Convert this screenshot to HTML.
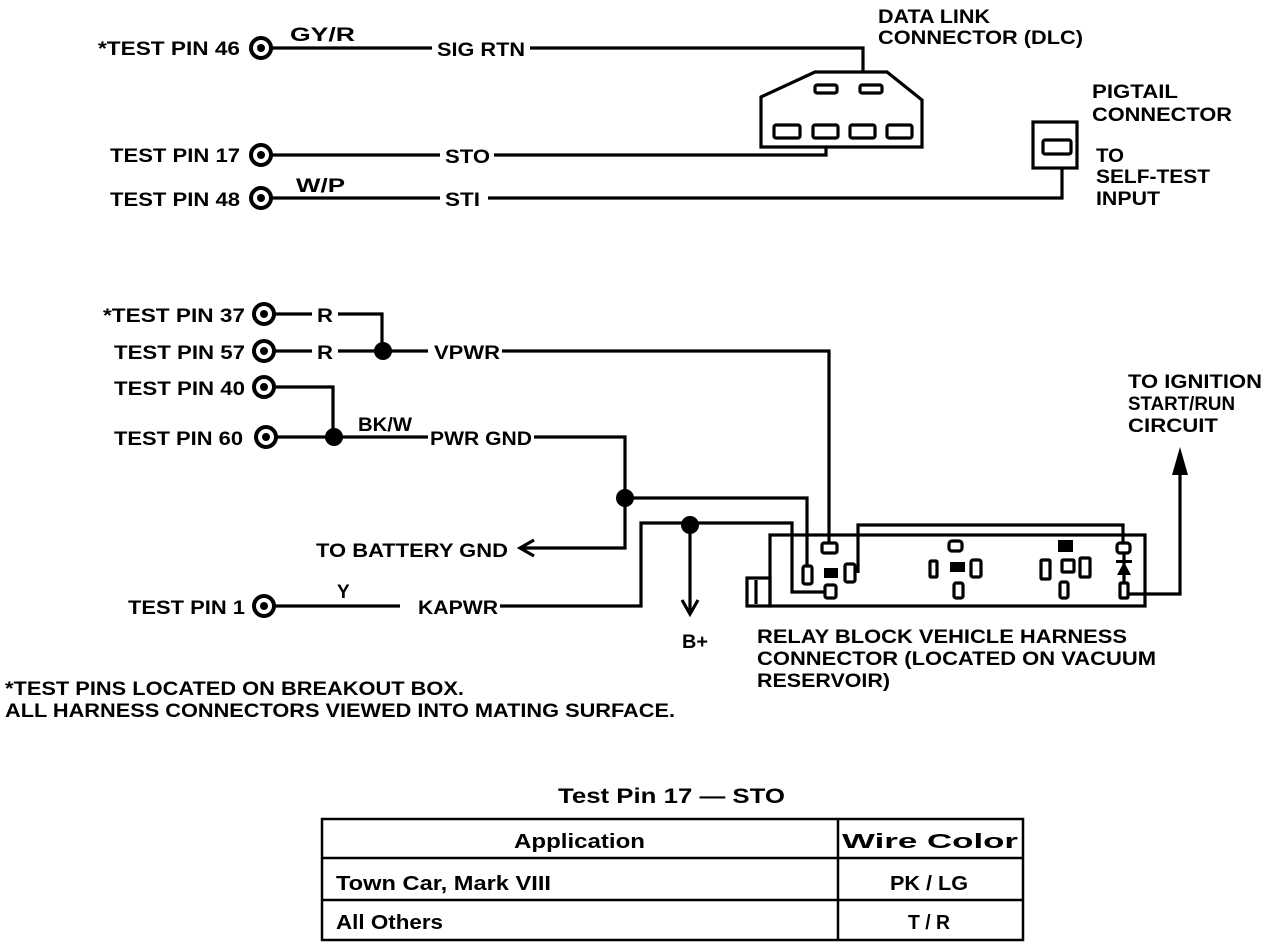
<!DOCTYPE html>
<html><head><meta charset="utf-8"><style>
html,body{margin:0;padding:0;background:#fff;}
svg{display:block}
text{font-family:"Liberation Sans",sans-serif;font-weight:bold;fill:#000;}
</style></head><body>
<svg width="1280" height="948" viewBox="0 0 1280 948" xmlns="http://www.w3.org/2000/svg">
<g fill="none" stroke="#000" stroke-width="3.2">
<circle cx="261" cy="48" r="10" stroke-width="4"/><circle cx="261" cy="155" r="10" stroke-width="4"/><circle cx="261" cy="198" r="10" stroke-width="4"/>
<polyline points="271,48 432,48"/><polyline points="530,48 863,48 863,72"/>
<polyline points="271,155 440,155"/><polyline points="494,155 826,155 826,147"/>
<polyline points="271,198 440,198"/><polyline points="488,198 1062,198 1062,168"/>
<polygon points="761,97 815,72 887,72 922,100 922,147 761,147"/>
<rect x="815" y="85" width="22" height="8" rx="2"/><rect x="860" y="85" width="22" height="8" rx="2"/>
<rect x="774" y="125" width="26" height="13" rx="2"/><rect x="813" y="125" width="25" height="13" rx="2"/>
<rect x="850" y="125" width="25" height="13" rx="2"/><rect x="887" y="125" width="25" height="13" rx="2"/>
<rect x="1033" y="122" width="44" height="46"/><rect x="1043" y="140" width="28" height="14" rx="2"/>
<circle cx="264" cy="314" r="10" stroke-width="4"/><circle cx="264" cy="351" r="10" stroke-width="4"/><circle cx="264" cy="387" r="10" stroke-width="4"/><circle cx="266" cy="437" r="10" stroke-width="4"/>
<polyline points="274,314 312,314"/><polyline points="338,314 382,314 382,351"/>
<polyline points="274,351 312,351"/><polyline points="338,351 428,351"/>
<polyline points="502,351 829,351 829,543"/>
<polyline points="274,387 333,387 333,437"/>
<polyline points="276,437 428,437"/>
<polyline points="534,437 625,437 625,548 522,548"/>
<polyline points="534,540 520,548 534,556"/>
<polyline points="625,498 807,498 807,566"/>
<circle cx="264" cy="606" r="10" stroke-width="4"/>
<polyline points="274,606 400,606"/><polyline points="500,606 641,606 641,523 792,523 792,592 826,592"/>
<polyline points="690,525 690,612"/><polyline points="682,600 690,614 698,600"/>
<rect x="770" y="535" width="375" height="71"/>
<rect x="747" y="578" width="23" height="28"/><line x1="756" y1="580" x2="756" y2="604"/>
<polyline points="858,573 858,525 1123,525 1123,543"/>
<polyline points="1127,594 1180,594 1180,465"/>
<rect x="822" y="543" width="15" height="10" rx="2"/>
<rect x="803" y="566" width="9" height="18" rx="2"/>
<rect x="845" y="564" width="10" height="18" rx="2"/>
<rect x="825" y="585" width="11" height="13" rx="2"/>
<rect x="949" y="541" width="13" height="10" rx="3"/>
<rect x="930" y="561" width="7" height="16" rx="1"/>
<rect x="971" y="560" width="10" height="17" rx="2"/>
<rect x="954" y="583" width="9" height="15" rx="2"/>
<rect x="1041" y="560" width="9" height="19" rx="1"/>
<rect x="1062" y="560" width="12" height="12" rx="1"/>
<rect x="1080" y="558" width="10" height="19" rx="1"/>
<rect x="1060" y="582" width="8" height="16" rx="2"/>
<rect x="1117" y="543" width="13" height="10" rx="3"/>
<line x1="1124" y1="553" x2="1124" y2="583"/>
<rect x="1120" y="583" width="8" height="15" rx="1"/>
</g>
<g fill="#000">
<circle cx="383" cy="351" r="9"/><circle cx="334" cy="437" r="9"/><circle cx="625" cy="498" r="9"/><circle cx="690" cy="525" r="9"/>
<circle cx="261" cy="48" r="4"/><circle cx="261" cy="155" r="4"/><circle cx="261" cy="198" r="4"/>
<circle cx="264" cy="314" r="4"/><circle cx="264" cy="351" r="4"/><circle cx="264" cy="387" r="4"/><circle cx="266" cy="437" r="4"/><circle cx="264" cy="606" r="4"/>
<rect x="824" y="568" width="14" height="10"/>
<rect x="950" y="562" width="15" height="10"/>
<rect x="1058" y="540" width="15" height="12"/>
<polygon points="1117,575 1131,575 1124,562"/><rect x="1116" y="560" width="16" height="3"/>
<polygon points="1172,475 1188,475 1180,447"/>
</g>
<g font-size="19" lengthAdjust="spacingAndGlyphs">
<text x="98" y="55" textLength="142" lengthAdjust="spacingAndGlyphs">*TEST PIN 46</text>
<text x="290" y="41" textLength="65" lengthAdjust="spacingAndGlyphs">GY/R</text>
<text x="437" y="56" textLength="88" lengthAdjust="spacingAndGlyphs">SIG RTN</text>
<text x="110" y="162" textLength="130" lengthAdjust="spacingAndGlyphs">TEST PIN 17</text>
<text x="445" y="163" textLength="45" lengthAdjust="spacingAndGlyphs">STO</text>
<text x="110" y="206" textLength="130" lengthAdjust="spacingAndGlyphs">TEST PIN 48</text>
<text x="296" y="192" textLength="49" lengthAdjust="spacingAndGlyphs">W/P</text>
<text x="445" y="206" textLength="35" lengthAdjust="spacingAndGlyphs">STI</text>
<text x="878" y="23" textLength="112" lengthAdjust="spacingAndGlyphs">DATA LINK</text>
<text x="878" y="44" textLength="205" lengthAdjust="spacingAndGlyphs">CONNECTOR (DLC)</text>
<text x="1092" y="98" textLength="86" lengthAdjust="spacingAndGlyphs">PIGTAIL</text>
<text x="1092" y="121" textLength="140" lengthAdjust="spacingAndGlyphs">CONNECTOR</text>
<text x="1096" y="162" textLength="28" lengthAdjust="spacingAndGlyphs">TO</text>
<text x="1096" y="183" textLength="114" lengthAdjust="spacingAndGlyphs">SELF-TEST</text>
<text x="1096" y="205" textLength="64" lengthAdjust="spacingAndGlyphs">INPUT</text>
<text x="103" y="322" textLength="142" lengthAdjust="spacingAndGlyphs">*TEST PIN 37</text>
<text x="317" y="322" textLength="16" lengthAdjust="spacingAndGlyphs">R</text>
<text x="114" y="359" textLength="131" lengthAdjust="spacingAndGlyphs">TEST PIN 57</text>
<text x="317" y="359" textLength="16" lengthAdjust="spacingAndGlyphs">R</text>
<text x="434" y="359" textLength="66" lengthAdjust="spacingAndGlyphs">VPWR</text>
<text x="114" y="395" textLength="131" lengthAdjust="spacingAndGlyphs">TEST PIN 40</text>
<text x="114" y="445" textLength="129" lengthAdjust="spacingAndGlyphs">TEST PIN 60</text>
<text x="358" y="431" textLength="54" lengthAdjust="spacingAndGlyphs">BK/W</text>
<text x="430" y="445" textLength="102" lengthAdjust="spacingAndGlyphs">PWR GND</text>
<text x="316" y="557" textLength="192" lengthAdjust="spacingAndGlyphs">TO BATTERY GND</text>
<text x="128" y="614" textLength="117" lengthAdjust="spacingAndGlyphs">TEST PIN 1</text>
<text x="337" y="598">Y</text>
<text x="418" y="614" textLength="80" lengthAdjust="spacingAndGlyphs">KAPWR</text>
<text x="682" y="648" textLength="26" lengthAdjust="spacingAndGlyphs">B+</text>
<text x="1128" y="388" textLength="134" lengthAdjust="spacingAndGlyphs">TO IGNITION</text>
<text x="1128" y="410" textLength="107" lengthAdjust="spacingAndGlyphs">START/RUN</text>
<text x="1128" y="432" textLength="90" lengthAdjust="spacingAndGlyphs">CIRCUIT</text>
<text x="757" y="643" textLength="370" lengthAdjust="spacingAndGlyphs">RELAY BLOCK VEHICLE HARNESS</text>
<text x="757" y="665" textLength="399" lengthAdjust="spacingAndGlyphs">CONNECTOR (LOCATED ON VACUUM</text>
<text x="757" y="687" textLength="133" lengthAdjust="spacingAndGlyphs">RESERVOIR)</text>
<text x="5" y="695" textLength="459" lengthAdjust="spacingAndGlyphs">*TEST PINS LOCATED ON BREAKOUT BOX.</text>
<text x="5" y="717" textLength="670" lengthAdjust="spacingAndGlyphs">ALL HARNESS CONNECTORS VIEWED INTO MATING SURFACE.</text>
<text x="558" y="803" font-size="21" textLength="227" lengthAdjust="spacingAndGlyphs">Test Pin 17 — STO</text>
</g>
<g fill="none" stroke="#000" stroke-width="2.5">
<rect x="322" y="819" width="701" height="121"/>
<line x1="322" y1="858" x2="1023" y2="858"/><line x1="322" y1="900" x2="1023" y2="900"/>
<line x1="838" y1="819" x2="838" y2="940"/>
</g>
<g font-size="20">
<text x="514" y="848" textLength="131" lengthAdjust="spacingAndGlyphs">Application</text>
<text x="842" y="848" textLength="176" lengthAdjust="spacingAndGlyphs">Wire Color</text>
<text x="336" y="890" textLength="215" lengthAdjust="spacingAndGlyphs">Town Car, Mark VIII</text>
<text x="890" y="890" textLength="78" lengthAdjust="spacingAndGlyphs">PK / LG</text>
<text x="336" y="929" textLength="107" lengthAdjust="spacingAndGlyphs">All Others</text>
<text x="908" y="929" textLength="42" lengthAdjust="spacingAndGlyphs">T / R</text>
</g>
</svg>
</body></html>
